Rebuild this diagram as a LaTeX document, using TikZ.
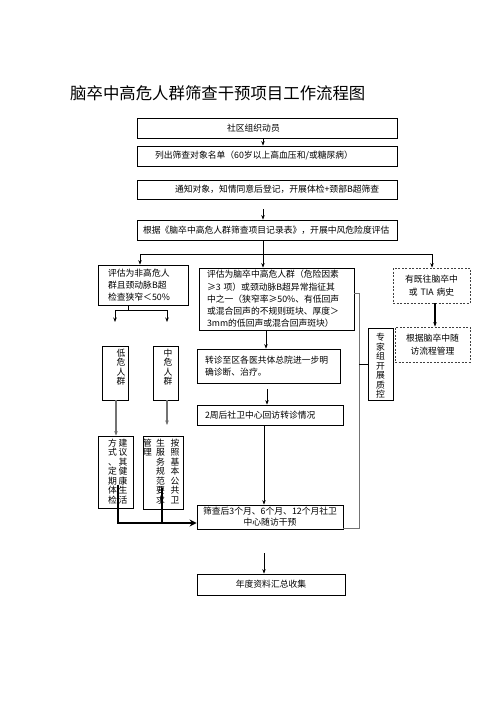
\documentclass[tikz,border=0pt]{standalone}
\usepackage{fontspec}
\setmainfont{Noto Sans CJK SC}
\usetikzlibrary{arrows.meta,calc}
\tikzset{
  box/.style={draw, line width=0.8pt, inner ysep=0pt, font=\fontsize{8.8}{12.3}\selectfont},
  ebox/.style={draw, line width=0.8pt, inner sep=0pt},
  dbox/.style={draw=black!75, dash pattern=on 2pt off 1.5pt, line width=0.8pt, inner ysep=0pt, font=\fontsize{8.8}{12.3}\selectfont},
  vtext/.style={font=\fontsize{8.8}{9.5}\selectfont, align=center, inner sep=0pt, anchor=north},
  ln/.style={line width=0.7pt},
  arr/.style={line width=0.7pt, -{Stealth[length=4.5pt,width=3.5pt]}},
  garr/.style={line width=1.2pt, draw=black!55, -{Stealth[length=4.5pt,width=3.5pt,fill=black]}},
  gline/.style={line width=1pt, draw=black!55},
  thk/.style={line width=2pt, -{Stealth[length=7pt,width=7pt]}},
}
\begin{document}
\begin{tikzpicture}[x=1pt,y=-1pt]
\useasboundingbox[fill=white] (0,0) rectangle (496,702);
% title
\node[anchor=west, inner sep=0pt, font=\fontsize{16.4}{18}\selectfont] (title) at (70,93) {脑卒中高危人群筛查干预项目工作流程图};
% top boxes
\node[box, minimum width=260, minimum height=20, inner xsep=90, text width=80, align=left] (b1) at (267,128) {社区组织动员};
\node[box, minimum width=260, minimum height=20, inner xsep=18, text width=224, align=left] (b2) at (267,156) {列出筛查对象名单（60岁以上高血压和/或糖尿病）};
\node[box, minimum width=260, minimum height=19, inner xsep=38, text width=184, align=left] (b3) at (267,189.5) {通知对象，知情同意后登记，开展体检+颈部B超筛查};
\node[box, minimum width=260, minimum height=20, inner xsep=6, text width=248, align=left] (b4) at (267,230) {根据《脑卒中高危人群筛查项目记录表》，开展中风危险度评估};
% second row
\node[box, minimum width=90, minimum height=40, inner xsep=10, text width=70, align=left] (lo) at (143,285) {评估为非高危人\\群且颈动脉B超\\检查狭窄＜50\%};
\node[box, minimum width=155, minimum height=62, inner xsep=8, text width=139, align=left] (hi) at (276.5,299) {评估为脑卒中高危人群（危险因素\\≥3 项）或颈动脉B超异常指征其\\中之一（狭窄率≥50\%、有低回声\\或混合回声的不规则斑块、厚度＞\\3mm的低回声或混合回声斑块）};
\node[dbox, minimum width=77, minimum height=35, inner xsep=4, text width=69, align=center] (d1) at (431.5,285.5) {有既往脑卒中\\或 TIA 病史};
\node[dbox, minimum width=75, minimum height=35, inner xsep=4, text width=67, align=center] (d2) at (432.5,344.5) {根据脑卒中随\\访流程管理};
% expert box
\node[ebox, minimum width=25, minimum height=72] (zj) at (380.5,364) {};
\node[vtext] (zjt) at (380.5,333) {专\\家\\组\\开\\展\\质\\控};
% low / mid risk
\node[ebox, minimum width=26, minimum height=54] (la) at (115,373) {};
\node[vtext] (lat) at (121,348.5) {低\\危\\人\\群};
\node[ebox, minimum width=25, minimum height=54] (ma) at (165.5,373) {};
\node[vtext] (mat) at (168,348.5) {中\\危\\人\\群};
% advice boxes
\node[ebox, minimum width=35, minimum height=72] (jy) at (115.5,472) {};
\node[vtext] (jyt1) at (123,438.5) {建\\议\\其\\健\\康\\生\\活};
\node[vtext] (jyt2) at (112.5,438.5) {方\\式\\、\\定\\期\\体\\检};
\node[ebox, minimum width=40, minimum height=73] (az) at (163,472.5) {};
\node[vtext] (azt1) at (175,438.5) {按\\照\\基\\本\\公\\共\\卫};
\node[vtext] (azt2) at (160.5,438.5) {生\\服\\务\\规\\范\\要\\求};
\node[vtext] (azt3) at (147.5,438.5) {管\\理};
% middle column
\node[box, minimum width=143, minimum height=34, inner xsep=8, text width=127, align=left] (zz) at (268.5,366) {转诊至区各医共体总院进一步明\\确诊断、治疗。};
\node[box, minimum width=146, minimum height=20, inner xsep=8, text width=130, align=left] (zw) at (270,415) {2周后社卫中心回访转诊情况};
\node[box, minimum width=146, minimum height=24, inner xsep=4, text width=138, align=center, font=\fontsize{8.8}{11}\selectfont] (sc) at (270,517) {筛查后3个月、6个月、12个月社卫\\中心随访干预};
\node[box, minimum width=148, minimum height=21, inner xsep=4, text width=140, align=center] (nd) at (271,584.5) {年度资料汇总收集};
% coordinates
\coordinate (xa) at (263,0);
\coordinate (cA) at (263,254);
\coordinate (jL) at (140,254);
\coordinate (jR) at (432,254);
\coordinate (lB) at (128,310);
\coordinate (lL) at (115,310);
\coordinate (lR) at (167,310);
\coordinate (tL) at (115,322);
\coordinate (tR) at (167,322);
\coordinate (x116) at (116,0);
\coordinate (tM) at (167,425);
\coordinate (k1) at (118,485);
\coordinate (k2) at (162,488);
\coordinate (k3) at (118,523);
\coordinate (r1) at (359,293);
\coordinate (r2) at (359,528);
\coordinate (x266) at (266,0);
\coordinate (x267) at (267,0);
\coordinate (x264) at (264,0);
\coordinate (x435) at (435,0);
% connectors
\draw[arr] (b1.south -| xa) -- (b2.north -| xa);
\draw[arr, shorten <=10pt] (b3.south -| xa) -- (b4.north -| xa);
\draw[ln] (b4.south -| cA) -- (cA);
\draw[ln] (jL) -- (jR);
\draw[arr] (jL) -- (lo.north -| jL);
\draw[arr] (cA) -- (hi.north -| cA);
\draw[arr] (jR) -- (d1.north -| jR);
\draw[arr, line width=1.1pt] (d1.south -| x435) -- (d2.north -| x435);
\draw[ln] (lo.south -| lB) -- (lB);
\draw[ln] (lL) -- (lR);
\draw[arr] (lL) -- (tL);
\draw[arr] (lR) -- (tR);
\draw[garr] (la.south -| x116) -- (jy.north -| x116);
\draw[garr] (ma.south -| tM) -- (tM);
\draw[thk] (k1) -- (k3) -- (sc.west |- k3);
\draw[line width=2pt] (k2) -- (k2 |- k3);
\draw[gline] (hi.east |- r1) -- (r1) -- (r2) -- (sc.east |- r2);
\draw[ln] (r1 |- zj.west) -- (zj.west);
\draw[arr] (hi.south -| x266) -- (zz.north -| x266);
\draw[arr, shorten <=6pt] (zz.south -| x267) -- (zw.north -| x267);
\draw[arr] (zw.south -| x264) -- (sc.north -| x264);
\draw[arr, shorten <=24pt] (sc.south -| x264) -- (nd.north -| x264);
\end{tikzpicture}
\end{document}
